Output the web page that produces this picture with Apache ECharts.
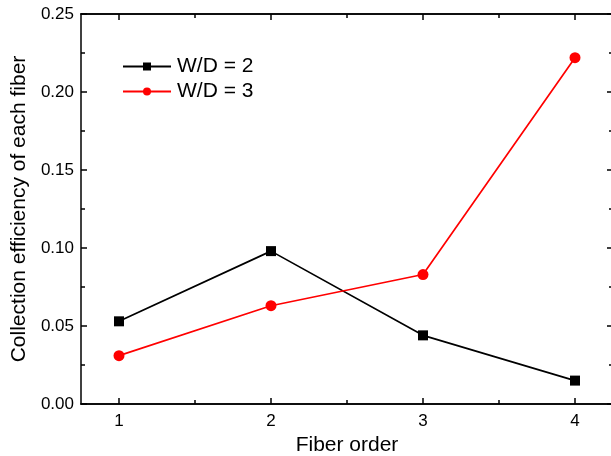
<!DOCTYPE html>
<html>
<head>
<meta charset="utf-8">
<script src="https://cdn.jsdelivr.net/npm/echarts@6/dist/echarts.min.js"></script>
<style>html,body{margin:0;padding:0;background:#fff}#c{width:611px;height:456px}</style>
</head>
<body>
<div id="c"></div>
<script>
const fiberOrder = [1, 2, 3, 4];
const wd2 = [0.053, 0.098, 0.044, 0.015];
const wd3 = [0.031, 0.063, 0.083, 0.222];
const xMajorTicks = [1, 2, 3, 4];
const xMinorTicks = [1.5, 2.5, 3.5];
const seriesNames = ['W/D = 2', 'W/D = 3'];

const font = 'Liberation Sans, Arial, sans-serif';
const chart = echarts.init(document.getElementById('c'));
const axisLine = {show: true, lineStyle: {color: '#000', width: 1.5}};
function xAx(pos, ticks, len, labels, extra) {
  return Object.assign({
    type: 'value', min: 0.75, max: 4.25, position: pos,
    axisLine: axisLine,
    axisTick: {show: true, inside: true, length: len, customValues: ticks, lineStyle: {color: '#000', width: 1.5}},
    axisLabel: labels ? {show: true, customValues: ticks, color: '#000', fontSize: 17, fontFamily: font, margin: 9} : {show: false},
    splitLine: {show: false}
  }, extra || {});
}
chart.setOption({
  animation: false,
  grid: {left: 81, right: -2, top: 14, bottom: 52, containLabel: false, outerBoundsMode: 'none'},
  legend: {
    left: 117, top: 51, orient: 'vertical', itemGap: 4, itemWidth: 48, itemHeight: 10,
    textStyle: {fontSize: 21, fontFamily: font, color: '#000', padding: [0, 0, 0, 1]},
    data: seriesNames
  },
  xAxis: [
    xAx('bottom', xMajorTicks, 6, true, {name: 'Fiber order', nameLocation: 'middle', nameGap: 27,
      nameTextStyle: {fontSize: 21, fontFamily: font, color: '#000'}}),
    xAx('bottom', xMinorTicks, 4, false),
    xAx('top', xMajorTicks, 6, false),
    xAx('top', xMinorTicks, 4, false)
  ],
  yAxis: [
    {type: 'value', min: 0, max: 0.25, interval: 0.05, position: 'left',
      name: 'Collection efficiency of each fiber', nameLocation: 'middle', nameGap: 50,
      nameTextStyle: {fontSize: 21, fontFamily: font, color: '#000'},
      axisLine: axisLine,
      axisTick: {show: true, inside: true, length: 6, lineStyle: {color: '#000', width: 1.5}},
      minorTick: {show: true, splitNumber: 2, length: 4, lineStyle: {color: '#000', width: 1.5}},
      axisLabel: {color: '#000', fontSize: 17, fontFamily: font, margin: 7, formatter: v => v.toFixed(2)},
      splitLine: {show: false}},
    {type: 'value', min: 0, max: 0.25, interval: 0.05, position: 'right',
      axisLine: axisLine,
      axisTick: {show: true, inside: true, length: 6, lineStyle: {color: '#000', width: 1.5}},
      minorTick: {show: true, splitNumber: 2, length: 4, lineStyle: {color: '#000', width: 1.5}},
      axisLabel: {show: false}, splitLine: {show: false}}
  ],
  series: [
    {name: seriesNames[0], type: 'line', data: fiberOrder.map((x, i) => [x, wd2[i]]),
      symbol: 'rect', symbolSize: 10, itemStyle: {color: '#000'}, lineStyle: {color: '#000', width: 1.7}},
    {name: seriesNames[1], type: 'line', data: fiberOrder.map((x, i) => [x, wd3[i]]),
      symbol: 'circle', symbolSize: 11, itemStyle: {color: '#ff0000'}, lineStyle: {color: '#ff0000', width: 1.7}}
  ]
});
</script>
</body>
</html>
